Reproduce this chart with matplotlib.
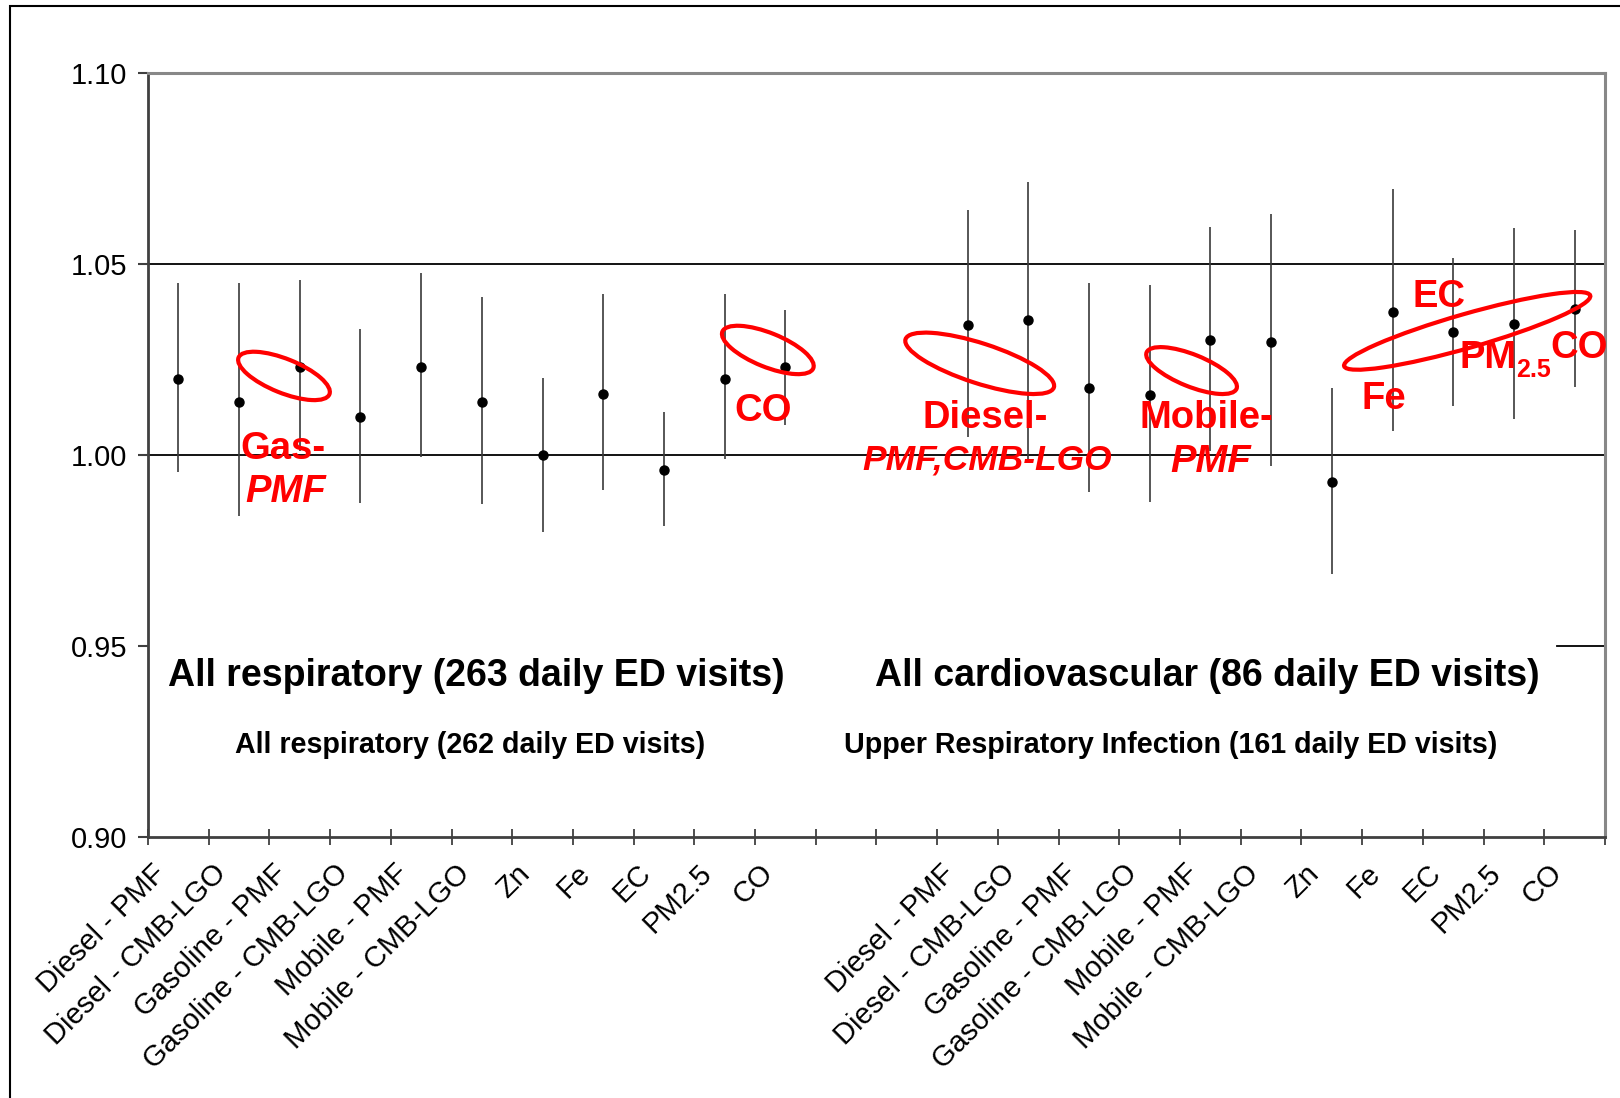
import matplotlib
matplotlib.use("Agg")
import numpy as np
import matplotlib.pyplot as plt
from matplotlib.patches import Ellipse, Rectangle
from matplotlib import transforms

plt.rcParams['font.family'] = ['Liberation Sans', 'DejaVu Sans']

# categories (same list for both outcome groups)
categories = ["Diesel - PMF", "Diesel - CMB-LGO", "Gasoline - PMF", "Gasoline - CMB-LGO",
              "Mobile - PMF", "Mobile - CMB-LGO", "Zn", "Fe", "EC", "PM2.5", "CO"]

# all respiratory: risk ratio and 95% CI
resp_rr = [1.020, 1.014, 1.023, 1.010, 1.023, 1.014, 1.000, 1.016, 0.996, 1.020, 1.023]
resp_lo = [0.9955, 0.984, 1.001, 0.9874, 0.9995, 0.9873, 0.9798, 0.9908, 0.9814, 0.9990, 1.0079]
resp_hi = [1.0451, 1.0450, 1.0457, 1.0331, 1.0476, 1.0413, 1.0202, 1.0422, 1.0113, 1.0422, 1.0380]

# all cardiovascular
cardio_rr = [1.0341, 1.0353, 1.0175, 1.0158, 1.0301, 1.0296, 0.9929, 1.0375, 1.0321, 1.0342, 1.0382]
cardio_lo = [1.0046, 0.999, 0.9904, 0.9877, 1.001, 0.9971, 0.9688, 1.0062, 1.0128, 1.0095, 1.0179]
cardio_hi = [1.0642, 1.0714, 1.0450, 1.0445, 1.0596, 1.0630, 1.0175, 1.0696, 1.0516, 1.0593, 1.0590]

yticks = [0.90, 0.95, 1.00, 1.05, 1.10]
GAP = 2  # empty category slots between the two groups
RED = '#ff0000'

fig = plt.figure(figsize=(16.2, 10.98), dpi=100)
ax = fig.add_axes([148 / 1620, 1 - 837 / 1098, (1605 - 148) / 1620, (837 - 73) / 1098])

x_resp = np.arange(len(categories))
x_cardio = x_resp + len(categories) + GAP
n_slots = len(categories) * 2 + GAP

for xs, rr, lo, hi in [(x_resp, resp_rr, resp_lo, resp_hi), (x_cardio, cardio_rr, cardio_lo, cardio_hi)]:
    rr = np.array(rr)
    err = [rr - np.array(lo), np.array(hi) - rr]
    ax.errorbar(xs, rr, yerr=err, fmt='o', color='black', ecolor='#3a3a3a',
                elinewidth=1.2, capsize=0, markersize=6.5, zorder=3)

ax.set_xlim(-0.5, n_slots - 0.5)
ax.set_ylim(yticks[0], yticks[-1])

# horizontal gridlines
for y in [1.00, 1.05]:
    ax.axhline(y, color='black', lw=1.3, zorder=1)
ax.axhline(0.95, xmin=0.967, xmax=1, color='black', lw=1.3, zorder=1)

# y axis
ax.set_yticks(yticks)
ax.set_yticklabels(["%.2f" % v for v in yticks])
ax.tick_params(axis='y', direction='out', length=7, width=1.5, color='#404040',
               labelsize=21, pad=8)

# x axis: ticks between categories, labels at centers
ax.set_xticks(np.arange(-0.5, n_slots, 1))
ax.set_xticklabels([])
ax.tick_params(axis='x', which='major', direction='inout', length=12, width=1.3, color='#404040')
ax.set_xticks(np.concatenate([x_resp, x_cardio]), minor=True)
ax.set_xticklabels(categories + categories, minor=True)
ax.tick_params(axis='x', which='minor', length=0, labelsize=21, pad=23)
shift = transforms.ScaledTranslation(-0.17, 0, fig.dpi_scale_trans)
for lab in ax.get_xticklabels(minor=True):
    lab.set_rotation(45)
    lab.set_ha('right')
    lab.set_va('center')
    lab.set_rotation_mode('anchor')
    lab.set_transform(lab.get_transform() + shift)

for s in ['left', 'bottom']:
    ax.spines[s].set_color('#404040')
    ax.spines[s].set_linewidth(2)
for s in ['top', 'right']:
    ax.spines[s].set_color('#888888')
    ax.spines[s].set_linewidth(2.2)

# group titles
ax.text(4.90, 0.9395, "All respiratory (263 daily ED visits)", ha='center', va='baseline',
        fontsize=27, fontweight='bold')
ax.text(4.81, 0.9220, "All respiratory (262 daily ED visits)", ha='center', va='baseline',
        fontsize=20.6, fontweight='bold')
ax.text(16.95, 0.9395, "All cardiovascular (86 daily ED visits)", ha='center', va='baseline',
        fontsize=27, fontweight='bold')
ax.text(16.34, 0.9220, "Upper Respiratory Infection (161 daily ED visits)", ha='center', va='baseline',
        fontsize=20.6, fontweight='bold')

# red ellipses: centre in data units, size in pixels
def ring(xc, yc, w, h, angle):
    tr = fig.dpi_scale_trans + transforms.ScaledTranslation(xc, yc, ax.transData)
    e = Ellipse((0, 0), w / 100, h / 100, angle=angle, transform=tr, fill=False,
                edgecolor=RED, lw=3, zorder=5, clip_on=False)
    ax.add_patch(e)

ring(1.74, 1.0207, 98, 34, -22)
ring(9.71, 1.0275, 98, 34, -22)
ring(13.20, 1.0240, 156, 40, -18)
ring(16.69, 1.0221, 97, 32, -22)
ring(21.23, 1.0325, 256, 34, 16)

red = dict(color=RED, fontweight='bold', va='baseline', zorder=6, clip_on=False)
ax.text(1.73, 0.9990, "Gas-", ha='center', fontsize=27.5, **red)
ax.text(1.77, 0.9877, "PMF", ha='center', style='italic', fontsize=27.5, **red)
ax.text(9.63, 1.0089, "CO", ha='center', fontsize=27.5, **red)
ax.text(13.29, 1.0071, "Diesel-", ha='center', fontsize=27.5, **red)
ax.text(13.32, 0.9961, "PMF,CMB-LGO", ha='center', style='italic', fontsize=25.5, **red)
ax.text(16.93, 1.0071, "Mobile-", ha='center', fontsize=27.5, **red)
ax.text(17.00, 0.9955, "PMF", ha='center', style='italic', fontsize=27.5, **red)
ax.text(20.77, 1.0387, "EC", ha='center', fontsize=27.5, **red)
ax.text(21.11, 1.0228, "PM", ha='left', fontsize=27.5, **red)
ax.text(22.03, 1.0204, "2.5", ha='left', fontsize=18, **red)
ax.text(23.08, 1.0254, "CO", ha='center', fontsize=27.5, **red)
ax.text(19.85, 1.0120, "Fe", ha='center', fontsize=27.5, **red)

# outer slide frame (only left and top edges fall inside the picture)
fig.patches.append(Rectangle((10 / 1620, -0.5), 2, 0.5 + 1 - 6 / 1098, transform=fig.transFigure,
                             fill=False, edgecolor='black', lw=1.5))

fig.savefig("out.png", dpi=100)
